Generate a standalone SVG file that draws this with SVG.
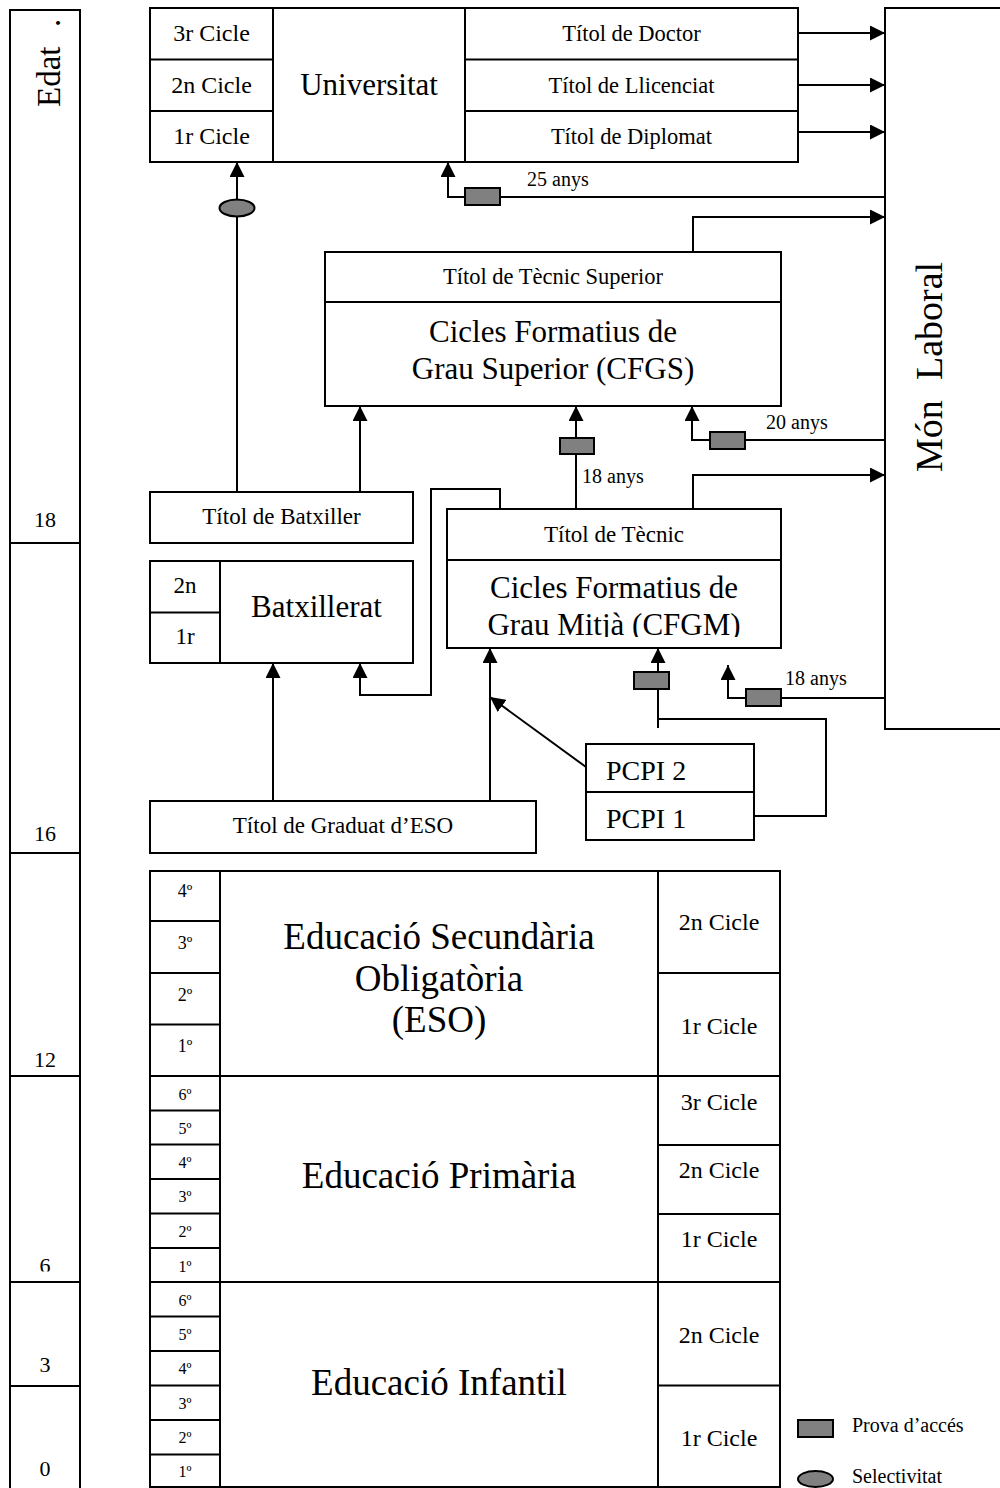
<svg xmlns="http://www.w3.org/2000/svg" width="1000" height="1488" viewBox="0 0 1000 1488">
<style>
.box{fill:#fff;stroke:#000;stroke-width:2}
.ln{fill:none;stroke:#000;stroke-width:2}
.pr{fill:#808080;stroke:#000;stroke-width:2}
text{font-family:"Liberation Serif","Times New Roman",serif;fill:#000}
.c{text-anchor:middle}
.big{font-size:31px}
.huge{font-size:37px}
.cy{font-size:24px}
.ti{font-size:22.5px}
.t23{font-size:23px}
.sm{font-size:20px}
.o17{font-size:18px}
.o15{font-size:16px}
.age{font-size:22px}
</style>
<defs>
<marker id="ah" markerWidth="15" markerHeight="15" refX="15" refY="7.5" orient="auto" markerUnits="userSpaceOnUse"><path d="M0,0 L15,7.5 L0,15 z" fill="#000"/></marker>
<clipPath id="clipCFGM"><rect x="447" y="560" width="334" height="77"/></clipPath>
<clipPath id="clip6"><rect x="10" y="1076" width="70" height="195.5"/></clipPath>
</defs>
<rect width="1000" height="1488" fill="#fff"/>

<g id="edat">
<rect class="box" x="10" y="10" width="70" height="1490"/>
<path class="ln" d="M10,543H80M10,853H80M10,1076H80M10,1282H80M10,1386H80"/>
<text transform="translate(60,107) rotate(-90)" style="font-size:33px">Edat<tspan x="80">.</tspan></text>
<text class="c age" x="45" y="527">18</text>
<text class="c age" x="45" y="841">16</text>
<text class="c age" x="45" y="1067">12</text>
<text class="c age" x="45" y="1273" clip-path="url(#clip6)">6</text>
<text class="c age" x="45" y="1372">3</text>
<text class="c age" x="45" y="1476">0</text>
</g>

<g id="connectors">
<path class="ln" d="M798,33H885" marker-end="url(#ah)"/>
<path class="ln" d="M798,85H885" marker-end="url(#ah)"/>
<path class="ln" d="M798,132H885" marker-end="url(#ah)"/>
<path class="ln" d="M885,197H448V162" marker-end="url(#ah)"/>
<path class="ln" d="M693,252V217H885" marker-end="url(#ah)"/>
<path class="ln" d="M885,440H692V406" marker-end="url(#ah)"/>
<path class="ln" d="M693,509V475H885" marker-end="url(#ah)"/>
<path class="ln" d="M576,509V406" marker-end="url(#ah)"/>
<path class="ln" d="M360,492V406" marker-end="url(#ah)"/>
<path class="ln" d="M237,492V162" marker-end="url(#ah)"/>
<path class="ln" d="M500,509V489H431V695H360V663" marker-end="url(#ah)"/>
<path class="ln" d="M273,801V663" marker-end="url(#ah)"/>
<path class="ln" d="M490,801V648" marker-end="url(#ah)"/>
<path class="ln" d="M586,767L490,697" marker-end="url(#ah)"/>
<path class="ln" d="M754,816H826V719H658"/>
<path class="ln" d="M658,728V648" marker-end="url(#ah)"/>
<path class="ln" d="M885,698H728V665" marker-end="url(#ah)"/>
<rect class="pr" x="465" y="188" width="35" height="17"/>
<rect class="pr" x="710" y="432" width="35" height="17"/>
<rect class="pr" x="560" y="438" width="34" height="16"/>
<rect class="pr" x="634" y="672" width="35" height="17"/>
<rect class="pr" x="746" y="689" width="35" height="17"/>
<ellipse class="pr" cx="237" cy="208" rx="17.5" ry="8.5"/>
<text class="sm" x="527" y="186">25 anys</text>
<text class="sm" x="766" y="429">20 anys</text>
<text class="sm" x="582" y="483">18 anys</text>
<text class="sm" x="785" y="685">18 anys</text>
</g>

<g id="universitat">
<rect class="box" x="150" y="8" width="315" height="154"/>
<path class="ln" d="M273,8V162M150,59.5H273M150,111H273"/>
<text class="c cy" x="211.5" y="41">3r Cicle</text>
<text class="c cy" x="211.5" y="93">2n Cicle</text>
<text class="c cy" x="211.5" y="144">1r Cicle</text>
<text class="c big" x="369" y="95">Universitat</text>
</g>

<g id="titols-universitat">
<rect class="box" x="465" y="8" width="333" height="154"/>
<path class="ln" d="M465,59.5H798M465,111H798"/>
<text class="c ti" x="631.5" y="41">Títol de Doctor</text>
<text class="c ti" x="631.5" y="93">Títol de Llicenciat</text>
<text class="c ti" x="631.5" y="144">Títol de Diplomat</text>
</g>

<g id="mon-laboral">
<rect class="box" x="885" y="8" width="130" height="721"/>
<text transform="translate(942,472) rotate(-90)" style="font-size:38px">Món<tspan x="92">Laboral</tspan></text>
</g>

<g id="cfgs">
<rect class="box" x="325" y="252" width="456" height="154"/>
<path class="ln" d="M325,302H781"/>
<text class="c ti" x="553" y="284">Títol de Tècnic Superior</text>
<text class="c big" x="553" y="342">Cicles Formatius de</text>
<text class="c big" x="553" y="379">Grau Superior (CFGS)</text>
</g>

<g id="titol-batxiller">
<rect class="box" x="150" y="492" width="263" height="51"/>
<text class="c t23" x="281.5" y="524">Títol de Batxiller</text>
</g>

<g id="batxillerat">
<rect class="box" x="150" y="561" width="263" height="102"/>
<path class="ln" d="M220,561V663M150,612.5H220"/>
<text class="c t23" x="185" y="593">2n</text>
<text class="c t23" x="185" y="644">1r</text>
<text class="c big" x="316.5" y="617">Batxillerat</text>
</g>

<g id="cfgm">
<rect class="box" x="447" y="509" width="334" height="139"/>
<path class="ln" d="M447,560H781"/>
<text class="c t23" x="614" y="542">Títol de Tècnic</text>
<g clip-path="url(#clipCFGM)">
<text class="c big" x="614" y="598">Cicles Formatius de</text>
<text class="c big" x="614" y="635">Grau Mitjà (CFGM)</text>
</g>
</g>

<g id="titol-graduat-eso">
<rect class="box" x="150" y="801" width="386" height="52"/>
<text class="c t23" x="343" y="833">Títol de Graduat d’ESO</text>
</g>

<g id="pcpi">
<rect class="box" x="586" y="744" width="168" height="96"/>
<path class="ln" d="M586,792H754"/>
<text style="font-size:28px" x="606" y="780">PCPI 2</text>
<text style="font-size:28px" x="606" y="828">PCPI 1</text>
</g>

<g id="eso">
<rect class="box" x="150" y="871" width="630" height="205"/>
<path class="ln" d="M220,871V1076M658,871V1076M150,921H220M150,973H220M150,1024.5H220M658,973H780"/>
<text class="c o17" x="185" y="897">4º</text>
<text class="c o17" x="185" y="949">3º</text>
<text class="c o17" x="185" y="1001">2º</text>
<text class="c o17" x="185" y="1052">1º</text>
<text class="c huge" x="439" y="949">Educació Secundària</text>
<text class="c huge" x="439" y="991">Obligatòria</text>
<text class="c huge" x="439" y="1032">(ESO)</text>
<text class="c cy" x="719" y="930">2n Cicle</text>
<text class="c cy" x="719" y="1034">1r Cicle</text>
</g>

<g id="primaria">
<rect class="box" x="150" y="1076" width="630" height="206"/>
<path class="ln" d="M220,1076V1282M658,1076V1282M150,1110.5H220M150,1144.5H220M150,1179H220M150,1213.5H220M150,1248H220M658,1145H780M658,1214H780"/>
<text class="c o15" x="185" y="1100">6º</text>
<text class="c o15" x="185" y="1134">5º</text>
<text class="c o15" x="185" y="1168">4º</text>
<text class="c o15" x="185" y="1202">3º</text>
<text class="c o15" x="185" y="1237">2º</text>
<text class="c o15" x="185" y="1272">1º</text>
<text class="c huge" x="439" y="1188">Educació Primària</text>
<text class="c cy" x="719" y="1110">3r Cicle</text>
<text class="c cy" x="719" y="1178">2n Cicle</text>
<text class="c cy" x="719" y="1247">1r Cicle</text>
</g>

<g id="infantil">
<rect class="box" x="150" y="1282" width="630" height="205"/>
<path class="ln" d="M220,1282V1487M658,1282V1487M150,1316.5H220M150,1351H220M150,1385.5H220M150,1420H220M150,1454.5H220M658,1385.5H780"/>
<text class="c o15" x="185" y="1306">6º</text>
<text class="c o15" x="185" y="1340">5º</text>
<text class="c o15" x="185" y="1374">4º</text>
<text class="c o15" x="185" y="1409">3º</text>
<text class="c o15" x="185" y="1443">2º</text>
<text class="c o15" x="185" y="1477">1º</text>
<text class="c huge" x="439" y="1395">Educació Infantil</text>
<text class="c cy" x="719" y="1343">2n Cicle</text>
<text class="c cy" x="719" y="1446">1r Cicle</text>
</g>

<g id="legend">
<rect class="pr" x="798" y="1420" width="35" height="17"/>
<text class="sm" x="852" y="1432">Prova d’accés</text>
<ellipse class="pr" cx="815.5" cy="1479" rx="17.5" ry="8"/>
<text class="sm" x="852" y="1483">Selectivitat</text>
</g>
</svg>
